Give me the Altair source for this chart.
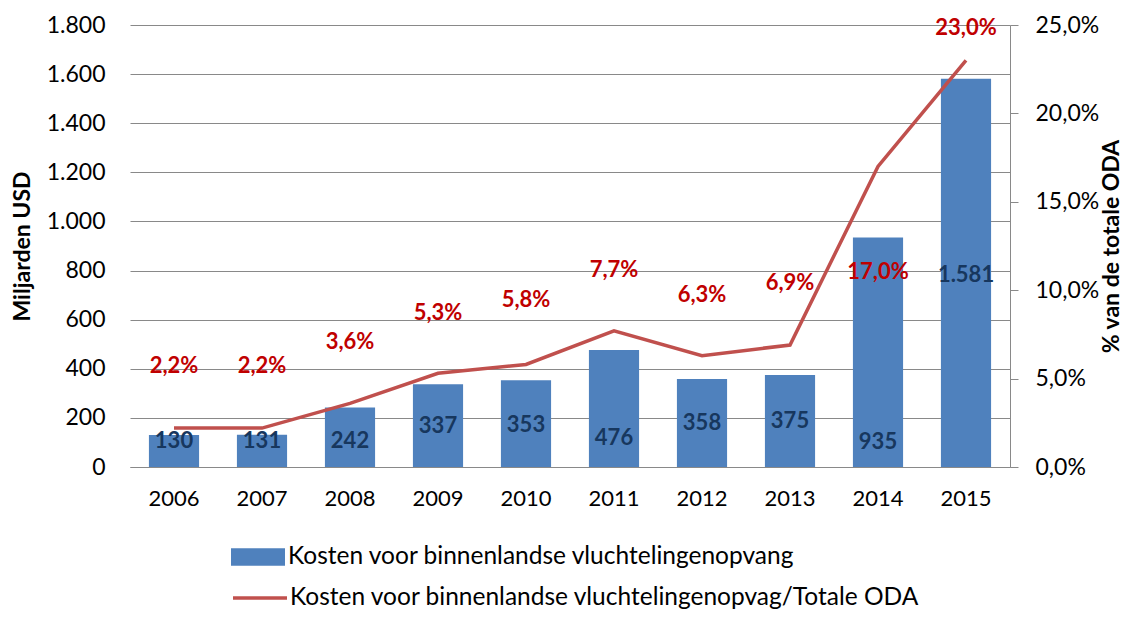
import altair as alt
import pandas as pd

years = ["2006", "2007", "2008", "2009", "2010", "2011", "2012", "2013", "2014", "2015"]
costs = [130, 131, 242, 337, 353, 476, 358, 375, 935, 1581]
cost_labels = ["130", "131", "242", "337", "353", "476", "358", "375", "935", "1.581"]
cost_label_anchor = [106, 106, 106, 167, 171, 118, 179, 187, 102, 782]
shares = [2.2, 2.2, 3.6, 5.3, 5.8, 7.7, 6.3, 6.9, 17.0, 23.0]
share_labels = ["2,2%", "2,2%", "3,6%", "5,3%", "5,8%", "7,7%", "6,3%", "6,9%", "17,0%", "23,0%"]
share_label_anchor = [5.71, 5.71, 7.07, 8.71, 9.45, 11.14, 9.73, 10.41, 11.03, 24.83]

bar_name = "Kosten voor binnenlandse vluchtelingenopvang"
line_name = "Kosten voor binnenlandse vluchtelingenopvag/Totale ODA"

df = pd.DataFrame({
    "year": years,
    "cost": costs,
    "cost_label": cost_labels,
    "cost_anchor": cost_label_anchor,
    "share": shares,
    "share_label": share_labels,
    "share_anchor": share_label_anchor,
    "bar_series": [bar_name] * len(years),
    "line_series": [line_name] * len(years),
})

FONT = "Lato"
GRID = "#898989"
TICK_FS = 23

x_enc = alt.X(
    "year:N",
    sort=years,
    scale=alt.Scale(paddingInner=0.43, paddingOuter=0.215),
    axis=alt.Axis(title=None, labelAngle=0, ticks=False, labelPadding=21,
                  domainColor=GRID, labelFontSize=22, labelColor="#000000"),
)

left_axis = alt.Axis(
    title="Miljarden USD", values=list(range(0, 1801, 200)),
    labelExpr="replace(format(datum.value, ','), ',', '.')",
    domain=False, ticks=False, grid=True, gridColor=GRID, gridWidth=1,
    labelPadding=25, labelFontSize=TICK_FS, labelColor="#000000",
    titleFontSize=23, titleFontWeight="bold", titleColor="#000000", titlePadding=12,
)
left_scale = alt.Scale(domain=[0, 1800], nice=False)

right_axis = alt.Axis(
    title="% van de totale ODA", orient="right", values=[0, 5, 10, 15, 20, 25],
    labelExpr="replace(format(datum.value, '.1f'), '.', ',') + '%'",
    domain=True, domainColor=GRID, ticks=True, tickColor=GRID, tickSize=8,
    grid=False, labelPadding=17, labelFontSize=TICK_FS, labelColor="#000000",
    titleFontSize=23, titleFontWeight="bold", titleColor="#000000",
    titleAngle=270, titlePadding=25,
)
right_scale = alt.Scale(domain=[0, 25], nice=False)

base = alt.Chart(df)

bars = base.mark_bar(color="#4F81BD").encode(
    x=x_enc,
    y=alt.Y("cost:Q", scale=left_scale, axis=left_axis),
    fill=alt.Fill(
        "bar_series:N",
        scale=alt.Scale(domain=[bar_name], range=["#4F81BD"]),
        legend=alt.Legend(
            title=None, orient="none", legendX=101, legendY=505, padding=0,
            symbolType="M-1,-0.32L1,-0.32L1,0.32L-1,0.32Z", symbolSize=2916,
            symbolStrokeWidth=0, symbolOpacity=1,
            labelFontSize=24.5, labelOffset=3, labelColor="#000000", labelLimit=900,
        ),
    ),
)

bar_text = base.mark_text(
    font=FONT, fontSize=22, fontWeight="bold", color="#17375E", baseline="middle"
).encode(
    x=x_enc,
    y=alt.Y("cost_anchor:Q", scale=left_scale, axis=left_axis),
    text="cost_label:N",
)

line = base.mark_line(strokeWidth=3.5).encode(
    x=x_enc,
    y=alt.Y("share:Q", scale=right_scale, axis=right_axis),
    stroke=alt.Stroke(
        "line_series:N",
        scale=alt.Scale(domain=[line_name], range=["#C0504D"]),
        legend=alt.Legend(
            title=None, orient="none", legendX=101, legendY=544, padding=0,
            symbolType="stroke", symbolSize=2916, symbolStrokeWidth=3.5,
            labelFontSize=24.5, labelOffset=1, labelColor="#000000", labelLimit=900,
        ),
    ),
)

share_text = base.mark_text(
    font=FONT, fontSize=22, fontWeight="bold", color="#C00000", baseline="middle"
).encode(
    x=x_enc,
    y=alt.Y("share_anchor:Q", scale=right_scale, axis=right_axis),
    text="share_label:N",
)

left = alt.layer(bars, bar_text)
right = alt.layer(line, share_text)

chart = alt.layer(left, right).resolve_scale(y="independent").properties(
    width=880, height=442,
    autosize=alt.AutoSizeParams(type="none"),
    padding={"left": 122, "top": 17, "right": 117, "bottom": 142},
).configure(font=FONT).configure_view(stroke=None).configure_axis(
    labelFont=FONT, titleFont=FONT
).configure_legend(labelFont=FONT)

chart.save("out.html", embed_options={"renderer": "svg", "actions": False})
